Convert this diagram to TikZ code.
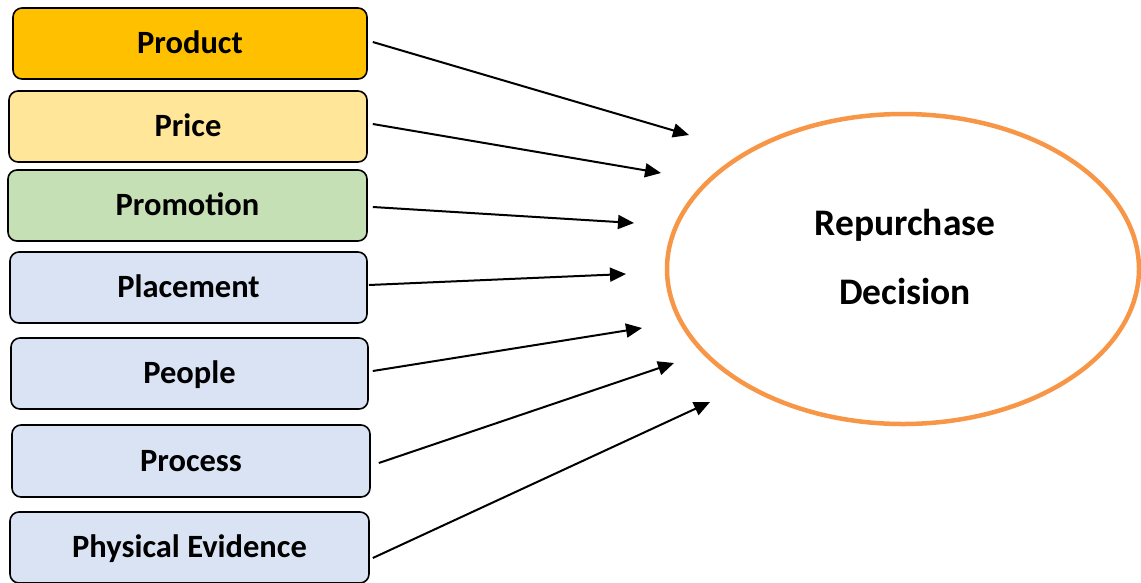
\documentclass[tikz,border=0pt]{standalone}
\usepackage{fontspec}
\setmainfont{Carlito}
\usetikzlibrary{arrows.meta,shapes.geometric}
\definecolor{cproduct}{HTML}{FFC000}
\definecolor{cprice}{HTML}{FFE699}
\definecolor{cpromo}{HTML}{C5E0B4}
\definecolor{cblue}{HTML}{DAE3F3}
\definecolor{corange}{HTML}{F79646}
\tikzset{
  box/.style={draw=black, line width=1.6pt, rounded corners=9pt, inner sep=0pt,
    minimum height=71pt, text height=20.5pt, text depth=0pt,
    font=\bfseries\fontsize{32.5}{38}\selectfont},
  arr/.style={draw=black, line width=2pt, -{Triangle[length=16pt,width=14pt]}},
  bigtxt/.style={anchor=base, inner sep=0pt, font=\bfseries\fontsize{37.5}{44}\selectfont}
}
\begin{document}
\begin{tikzpicture}[x=1pt,y=-1pt]
\useasboundingbox (0,0) rectangle (1141,582);
\node[box, fill=cproduct, minimum width=354pt] (p1) at (190,43.5) {Product};
\node[box, fill=cprice, minimum width=358pt] (p2) at (188,126.5) {Price};
\node[box, fill=cpromo, minimum width=359pt] (p3) at (187.5,205.5) {Promotion};
\node[box, fill=cblue, minimum width=357pt] (p4) at (188.5,287.5) {Placement};
\node[box, fill=cblue, minimum width=357pt] (p5) at (189.5,373.5) {People};
\node[box, fill=cblue, minimum width=358pt, minimum height=72pt] (p6) at (191,461) {Process};
\node[box, fill=cblue, minimum width=359pt] (p7) at (189.5,547.5) {Physical Evidence};
\node[draw=corange, line width=4.5pt, ellipse, inner sep=0pt, minimum width=472pt, minimum height=310pt] (rd) at (903,269) {};
\node[bigtxt] (l1) at (905,235) {Repurchase};
\node[bigtxt] (l2) at (905,304) {Decision};
\coordinate (t1) at (689,135);
\coordinate (t2) at (661,173);
\coordinate (t3) at (634,223);
\coordinate (t4) at (626,274);
\coordinate (t5) at (642,328);
\coordinate (t6) at (674,363);
\coordinate (t7) at (710,402);
\draw[arr] ([shift={(5,-1.5)}]p1.east) -- (t1);
\draw[arr] ([shift={(5,-2.5)}]p2.east) -- (t2);
\draw[arr] ([shift={(5,1.5)}]p3.east) -- (t3);
\draw[arr] ([shift={(1,-2.5)}]p4.east) -- (t4);
\draw[arr] ([shift={(4,-2.5)}]p5.east) -- (t5);
\draw[arr] ([shift={(8,2)}]p6.east) -- (t6);
\draw[arr] ([shift={(3,10.5)}]p7.east) -- (t7);
\end{tikzpicture}
\end{document}
